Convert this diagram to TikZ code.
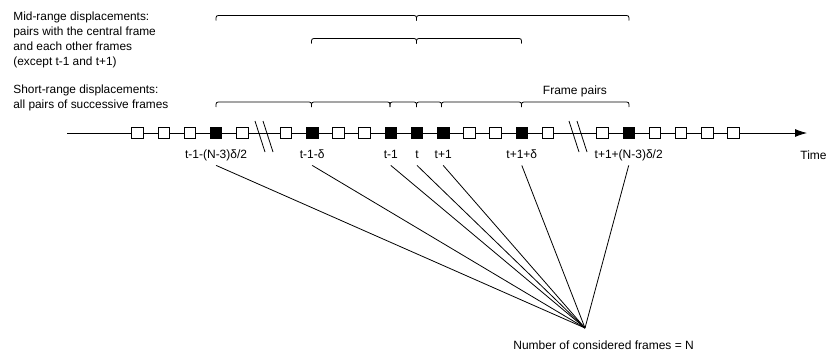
\documentclass[tikz,border=0pt]{standalone}
\usepackage{fontspec}
\setmainfont{Liberation Sans}
\usetikzlibrary{arrows.meta}
\begin{document}
\begin{tikzpicture}[x=0.75pt,y=-0.75pt,line width=0.6pt,every node/.style={font=\fontsize{9}{11}\selectfont,inner sep=0pt},
  frm/.style={draw,minimum width=8.6pt,minimum height=8.2pt},
  lbl/.style={inner sep=3pt,text height=7pt,text depth=2pt},
  side/.style={anchor=north west,align=left,font=\fontsize{8.9}{11.25}\selectfont}]
\useasboundingbox (0,0) rectangle (829,351);
\draw[-{Latex[length=9pt,width=6pt]}] (67,133) -- (807,133);
\foreach \k/\c in {0/white,1/white,2/white,3/black,4/white} {\node[frm,fill=\c] (a\k) at (137.5+26.2*\k,133) {};}
\foreach \k/\c in {0/white,1/black,2/white,3/white,4/black,5/black,6/black,7/white,8/white,9/black,10/white} {\node[frm,fill=\c] (b\k) at (286+26.2*\k,133) {};}
\foreach \k/\c in {0/white,1/black,2/white,3/white,4/white,5/white} {\node[frm,fill=\c] (c\k) at (602.5+26.2*\k,133) {};}
\foreach \x in {264,578} {\draw (\x-9,121) -- (\x+1,152) (\x-1,121) -- (\x+9,152);}
\node[anchor=west] (time) at (800,155) {Time};
% frame labels
\node[lbl] (l1) at (a3 |- 0,155) {t-1-(N-3)δ/2};
\node[lbl] (l2) at (b1 |- 0,155) {t-1-δ};
\node[lbl] (l3) at (b4 |- 0,155) {t-1};
\node[lbl] (l4) at (b5 |- 0,155) {t};
\node[lbl] (l5) at (b6 |- 0,155) {t+1};
\node[lbl] (l6) at (b9 |- 0,155) {t+1+δ};
\node[lbl] (l7) at (c1 |- 0,155) {t+1+(N-3)δ/2};
\coordinate (nf) at (585,328);
\node[anchor=west] (nft) at (513,345) {Number of considered frames = N};
\foreach \i in {1,...,7} {\draw (l\i.south) -- (nf);}
% braces
\foreach \a/\b/\y in {216/416.5/15.5,416.5/629/15.5,311.5/416.5/38.5,416.5/521.5/38.5,216/311.5/102,311.5/390/102,390/416.5/102,416.5/441.5/102,441.5/521.5/102,521.5/629/102}
  {\draw (\a,\y+5) .. controls (\a,\y) .. (\a+5,\y) -- (\b-5,\y) .. controls (\b,\y) .. (\b,\y+5);}
\node (fp) at (575,91) {Frame pairs};
\node[side] (mid) at (13,11) {Mid-range displacements:\\pairs with the central frame\\and each other frames\\(except t-1 and t+1)};
\node[side] (short) at (13,84) {Short-range displacements:\\all pairs of successive frames};
\end{tikzpicture}
\end{document}
